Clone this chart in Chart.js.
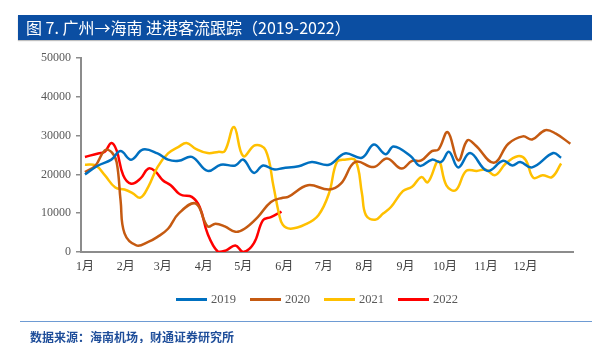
<!DOCTYPE html>
<html>
<head>
<meta charset="utf-8">
<script src="https://cdn.jsdelivr.net/npm/chart.js@4"></script>
<style>
  html, body { margin: 0; padding: 0; background: #fff; }
  body { width: 592px; height: 343px; position: relative; overflow: hidden; font-family: "Noto Sans CJK SC", "Noto Sans", sans-serif; }
  #title { position: absolute; left: 18px; top: 15px; width: 574px; height: 25px; background: #0B4EA2;
           box-shadow: 0 1px 1px rgba(0,0,0,0.25); color: #fff; font-size: 16px; line-height: 25px;
           padding-left: 8px; box-sizing: border-box; white-space: nowrap; }
  #wrap { position: absolute; left: 0; top: 0; width: 592px; height: 343px; }
  #legend { position: absolute; top: 292px; left: 176px; display: flex; align-items: center;
            font-family: "Liberation Serif", "Noto Sans CJK SC", serif; font-size: 12.5px; color: #595959; }
  .item { display: flex; align-items: center; margin-right: 14px; }
  .swatch { width: 31px; height: 3px; margin-right: 4px; }
  #rule { position: absolute; left: 20px; top: 321px; width: 572px; height: 1px; background: #6E9BD3; }
  #source { position: absolute; left: 30px; top: 329px; font-size: 12px; font-weight: bold; color: #1F4E9A; line-height: 16px; white-space: nowrap; }
</style>
</head>
<body>
<div id="wrap"><canvas id="c" width="592" height="343"></canvas></div>
<div id="title">图 7. 广州→海南 进港客流跟踪（2019-2022）</div>
<div id="legend"></div>
<div id="rule"></div>
<div id="source">数据来源：海南机场，财通证券研究所</div>
<script>
// ---- data (x = day of year, y = passengers) ----
const monthDays   = [0, 31, 59, 90, 120, 151, 181, 212, 243, 273, 304, 334];
const monthLabels = ["1月","2月","3月","4月","5月","6月","7月","8月","9月","10月","11月","12月"];
const yTicks      = [0, 10000, 20000, 30000, 40000, 50000];

const days2019 = [0,10,20,27,35,44,55,63,71,81,93,103,114,120,128,135,143,150,162,172,185,197,210,219,228,234,247,254,263,270,276,283,292,305,317,324,330,339,355,361];
const vals2019 = [20000,22300,23800,26000,23800,26400,25400,23800,23500,24500,20900,22500,22300,23800,20400,22300,21300,21600,22100,23200,22500,25400,24300,27700,25200,27200,24700,22200,23800,23200,25800,21800,25500,20900,23500,22300,23200,21800,25500,24300];

const days2020 = [0,8,15,20,24,27,30,39,48,55,63,71,84,93,99,106,114,121,131,141,150,154,169,185,194,205,219,229,240,248,255,263,268,275,283,290,296,310,321,332,339,349,357,368];
const vals2020 = [20600,22300,26200,25800,23200,13300,4800,1700,2600,3900,6000,9900,12500,6600,7300,6600,5200,6000,9000,12900,14000,14200,17200,16100,17600,23200,21900,24100,21500,23500,23600,26000,26400,30900,23600,28800,27500,23000,27900,29800,29000,31400,30500,27900];

const days2021 = [0,8,15,23,30,36,42,48,55,63,71,77,84,93,101,106,113,120,129,137,143,147,150,156,167,177,185,191,197,205,210,213,220,226,232,241,248,255,260,268,274,281,289,297,304,311,319,328,334,340,347,354,361];
const vals2021 = [22500,22300,19800,16600,16100,15200,14000,16800,21900,25400,27100,28100,26600,25500,25800,26000,32200,24700,27500,26200,16800,10000,7000,6000,7100,9500,15100,23200,23800,23600,15100,9500,8300,9900,11600,15700,16800,19300,18000,23400,17200,15900,20900,20900,21200,19800,22800,24700,23800,19100,19800,19300,22800];

const days2022 = [0,10,15,20,24,29,35,42,48,53,59,65,71,74,81,87,93,101,107,114,120,128,135,141,149];
const vals2022 = [24500,25400,25800,28100,26200,19800,17600,18900,21500,20900,18500,17200,15100,14600,14200,11600,4700,0,400,1700,0,2200,8200,9000,10400];

const seriesNames  = ["2019", "2020", "2021", "2022"];
const seriesColors = ["#0070C0", "#C55A11", "#FFC000", "#FF0000"];
const seriesDays   = [days2019, days2020, days2021, days2022];
const seriesVals   = [vals2019, vals2020, vals2021, vals2022];

const datasets = seriesNames.map((name, i) => ({
  label: name,
  data: seriesDays[i].map((d, k) => ({ x: d, y: seriesVals[i][k] })),
  borderColor: seriesColors[i],
  backgroundColor: seriesColors[i],
  borderWidth: 2.5,
  pointRadius: 0,
  tension: 0.4,
  fill: false
}));

// HTML legend
const lg = document.getElementById('legend');
seriesNames.forEach((n, i) => {
  const it = document.createElement('div'); it.className = 'item';
  const sw = document.createElement('div'); sw.className = 'swatch'; sw.style.background = seriesColors[i];
  const tx = document.createElement('span'); tx.textContent = n;
  it.appendChild(sw); it.appendChild(tx); lg.appendChild(it);
});

const axisGray = '#8C8C8C';
const tickFont = { family: "'Liberation Serif', 'Noto Sans CJK SC', serif", size: 12 };

new Chart(document.getElementById('c'), {
  type: 'line',
  data: { datasets },
  options: {
    responsive: false,
    animation: false,
    layout: { padding: { left: 0, right: 19, top: 58, bottom: 0 } },
    plugins: { legend: { display: false }, tooltip: { enabled: false } },
    scales: {
      x: {
        type: 'linear',
        min: -3, max: 370,
        afterBuildTicks: (s) => { s.ticks = monthDays.map(v => ({ value: v })); },
        ticks: {
          autoSkip: false, maxRotation: 0, color: '#404040', font: tickFont, padding: 8,
          callback: (v) => { const i = monthDays.indexOf(v); return i >= 0 ? monthLabels[i] : ''; }
        },
        grid: { display: false, drawTicks: false },
        border: { display: true, color: axisGray, width: 2 },
        afterFit: (s) => { s.height = 91; }
      },
      y: {
        min: 0, max: 50000,
        afterBuildTicks: (s) => { s.ticks = yTicks.map(v => ({ value: v })); },
        ticks: { color: '#595959', font: tickFont, padding: 5, callback: (v) => String(v) },
        grid: { display: true, drawOnChartArea: false, drawTicks: true, tickLength: 5, color: axisGray, lineWidth: 1.5 },
        border: { display: true, color: axisGray, width: 2 },
        afterFit: (s) => { s.width = 81; }
      }
    }
  }
});
</script>
</body>
</html>
